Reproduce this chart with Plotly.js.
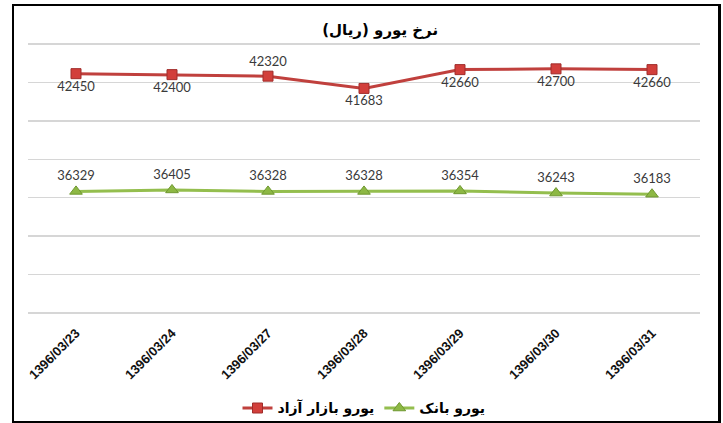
<!DOCTYPE html>
<html>
<head>
<meta charset="utf-8">
<script src="https://cdn.plot.ly/plotly-3.0.1.min.js"></script>
<style>
  html, body { margin: 0; padding: 0; background: #ffffff; }
  #frame {
    position: absolute; left: 12px; top: 4px;
    width: 709px; height: 419px; box-sizing: border-box;
    border-left: 2px solid #000; border-top: 2px solid #000;
    border-right: 3px solid #000; border-bottom: 2px solid #000;
    background: #fff;
  }
  #chart { width: 704px; height: 415px; }
</style>
</head>
<body>
<div id="frame"><div id="chart"></div></div>
<script>
const categories = ['1396/03/23', '1396/03/24', '1396/03/27', '1396/03/28', '1396/03/29', '1396/03/30', '1396/03/31'];
const freeMarketName = 'یورو بازار آزاد';
const freeMarketValues = [42450, 42400, 42320, 41683, 42660, 42700, 42660];
const bankName = 'یورو بانک';
const bankValues = [36329, 36405, 36328, 36328, 36354, 36243, 36183];
const chartTitle = 'نرخ یورو (ریال)';

const freeMarketLabelPos = ['bottom center', 'bottom center', 'top center', 'bottom center', 'bottom center', 'bottom center', 'bottom center'];

const labelFont = { family: 'Lato, "Open Sans", sans-serif', size: 13, color: '#3a3a3a' };

const traces = [
  {
    x: categories, y: freeMarketValues, name: freeMarketName,
    type: 'scatter', mode: 'lines+markers+text',
    text: freeMarketValues.map(String), textposition: freeMarketLabelPos,
    textfont: labelFont,
    line: { color: '#C0403D', width: 3 },
    marker: { symbol: 'square', size: 10, color: '#D23F3B', line: { color: '#A02C2A', width: 1 } },
    cliponaxis: false, hoverinfo: 'skip'
  },
  {
    x: categories, y: bankValues, name: bankName,
    type: 'scatter', mode: 'lines+markers+text',
    text: bankValues.map(String), textposition: 'top center',
    textfont: labelFont,
    line: { color: '#94BE4E', width: 3 },
    marker: { symbol: 'triangle-up', size: 11, color: '#8DB844', line: { color: '#6F9830', width: 1 } },
    cliponaxis: false, hoverinfo: 'skip'
  }
];

const layout = {
  width: 704, height: 415,
  margin: { l: 14, r: 18, t: 34.2, b: 104.2, autoexpand: false },
  paper_bgcolor: '#ffffff', plot_bgcolor: '#ffffff',
  title: {
    text: '<b>' + chartTitle + '</b>',
    font: { family: '"DejaVu Sans", sans-serif', size: 15, color: '#000' },
    x: 0.524, xanchor: 'center', xref: 'paper', y: 1 - 24 / 415, yanchor: 'middle', yref: 'container'
  },
  xaxis: {
    type: 'category', categoryorder: 'array', categoryarray: categories,
    range: [-0.5, 6.5], showgrid: false, zeroline: false, showline: false,
    ticks: '', tickangle: -45, ticklabelstandoff: 5, automargin: false,
    tickfont: { family: '"Liberation Sans", Arial, sans-serif', size: 13, color: '#111', weight: 'bold' }
  },
  yaxis: {
    range: [29800, 44200], dtick: 2000, tick0: 30000, automargin: false,
    showticklabels: false, ticks: '', zeroline: false, showline: false,
    showgrid: true, gridcolor: '#d6d6d6', gridwidth: 1.5
  },
  showlegend: true,
  legend: {
    orientation: 'h', x: 0.5, xanchor: 'center', y: -0.33, yanchor: 'middle',
    font: { family: '"DejaVu Sans", sans-serif', size: 14, color: '#000', weight: 'bold' },
    itemwidth: 30, tracegroupgap: 0
  }
};

Plotly.newPlot('chart', traces, layout, { displayModeBar: false, staticPlot: true });
</script>
</body>
</html>
